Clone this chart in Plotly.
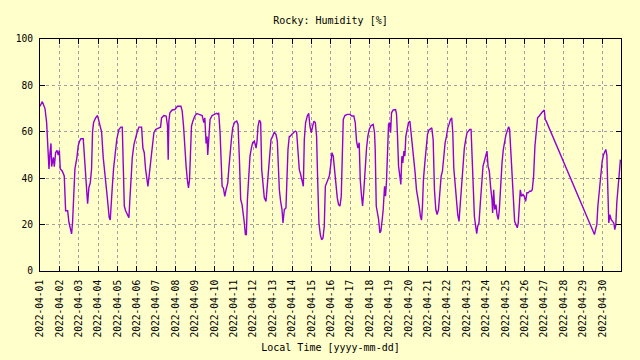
import pandas as pd
import plotly.graph_objects as go

start = "2022-04-01 00:00"
end = "2022-04-30 22:48"

# hours since 2022-04-01 00:00
hours = [
    0, 2.9, 6.2, 8.2, 9.5, 11.1, 12.4, 13.6, 14.4, 16.5, 17.7, 19.3, 21, 22.6, 23.9,
    25.1, 27.6, 30, 31.7, 34.2, 35.8, 37.9, 39.1, 40.3, 41.6, 43.2, 45.7, 47.3, 49,
    50.6, 53.5, 55.6, 56.8, 58, 58.9, 60.5, 62.2, 63.8, 65, 66.3, 68.8, 71.2, 72.9,
    75.3, 76.2, 78.2, 80.3, 82.3, 84, 85.6, 86.9, 87.7, 89.4, 91, 92.6, 95.1, 97.6, 100,
    101.8, 103, 104.3, 105.9, 108, 110, 110.9, 112.1, 114.2, 116.2, 118.3, 120.3, 122.4,
    125.7, 127.3, 129, 130.6, 132.3, 133.5, 134.7, 136.8, 138.9, 140.9, 143, 147.1, 149.1,
    150.4, 153.3, 156.1, 157.8, 158.6, 159.4, 160.7, 163.5, 166.8, 170.1, 174.3, 175.9,
    177.6, 179.2, 180.8, 182.5, 183.7, 185, 186.2, 187.4, 189.1, 191.5, 194, 196.5, 200.6,
    202.7, 203.9, 205.5, 206.7, 207.5, 208.8,
    210.4, 212.9, 215.8, 218.7, 220.3, 221.1, 222.8, 224, 225.3, 226.9, 228.6, 230.2,
    232.3, 233.5, 235.1, 236.8, 238.4, 240.5, 243.4, 245, 246.7, 248.3, 250, 251.6, 252.8,
    254.1, 255.3, 256.6, 258.2, 259.8, 261.5, 263.1, 265.2, 267.3, 268.5, 269.7, 271.4,
    273, 274.3, 275.9, 277.5, 279.6, 280.8, 282.1, 283.7, 285.8, 287.8, 289.9, 292, 293.6,
    294.8, 296.1, 297.7, 299.4, 300.6, 302.3, 304.3, 305.5, 306.8, 308.4,
    309.3, 311.4, 313.4, 315.9, 317.5, 319.2, 320.8, 322.5, 324.1, 325.8, 327, 328.6,
    330.7, 332.4, 334, 335.6, 337.3, 338.9, 340.6, 342.2, 343.5, 345.1, 346.8, 348.4,
    350.1, 351.7, 353, 354.6, 356.2, 357.9, 359.5, 361.2, 362.8, 364.5, 366.1, 367.8,
    369.4, 371.1, 372.7, 373.9, 375.2, 377.2, 380.1, 383.4, 385.9, 388.3, 390, 391.6,
    393.3, 394.9, 396.2, 397.8, 399.1, 400.7, 402.3, 404, 405.6, 407.3, 409.7, 412.2, 413.9,
    414.7, 416, 417.2, 418.9, 420.5, 421.7, 423.4, 424.6, 426.3, 427.5, 428.7, 430, 431.2,
    432.4, 433.7, 434.9, 437, 439.9, 441.1, 442.3, 443.6, 445.2, 446.4, 447.7, 448.9,
    450.2, 451.4, 452.6, 454.3, 455.9, 457.6, 459.2, 460.9, 462.5, 464.1, 465.8, 467.4,
    469.1, 470.7, 472, 473.2, 474.4, 476.1, 477.7, 479.4, 481, 483.1, 484.7, 486.4, 488,
    489.7, 491.3, 493, 494.6, 496.3, 497.9, 499.6, 501.2, 502.9, 504.5, 506.1, 507.8,
    509.4, 510.7, 511.9, 513.6, 515.2, 516.8,
    518.4, 520.1, 521.7, 523.4, 525, 526.7, 528.3, 530, 531.6, 533.3, 534.5, 535.7, 537.4,
    539, 540.3, 541.5, 543.1, 544.8, 546.4, 548.1, 549.7, 551.4, 553, 554.3, 555.9, 557.6,
    559.2, 560, 561.3, 562.5, 564.1, 565.4, 567, 568.3, 569.9, 571.6, 573.2, 574.8, 576.5,
    578.1, 579.8, 581, 582.3, 583.9, 585.6, 587.2, 588.8, 590.5, 591.7, 593, 594.2, 595.8,
    597.5, 599.1, 600.8, 602.4, 604.1, 605.7, 607.4, 609, 610.7, 612.3, 614, 615.6, 617.7,
    619.7,
    621.4, 623.9, 625.1, 626.3, 686, 687.3, 688.9, 690.2, 691.4, 692.6, 693.9, 695.5,
    697.1, 698.8, 700, 701.3, 702.5, 703.7, 705, 706.6, 708.3, 709.9, 711.1, 712.4, 713.6,
    715.3, 716.9, 718.1,
]

humidity = [
    71, 73, 70, 64, 55, 44, 51, 55, 45, 49, 45, 51, 52, 50, 52,
    44, 43, 41, 26, 26, 21, 18, 16, 21, 36, 44, 49, 54, 56,
    57, 57, 45, 39, 31, 29, 36, 38, 44, 60, 64, 66, 67, 65,
    62, 60, 49, 40, 35, 29, 23, 22, 28, 36, 44, 49, 57, 61, 62,
    62, 46, 28, 26, 24, 23, 29, 39, 49, 54.5, 58, 60, 62,
    62, 53, 51, 44, 39, 36.5, 40, 47, 54.5, 59.6, 61, 61.7, 62,
    66, 67, 66.8, 62.4, 48, 64.6, 68.2, 69.4, 69.6, 71, 71, 69,
    62.4, 52.4, 45, 38.7, 35.8, 39.4, 53, 62.4, 64.6, 66.8, 67.9, 67.5, 67,
    64, 66, 55, 58, 50, 60,
    65.3, 67, 67.5, 68, 67.5, 68.2, 59.6, 43.7, 36.5, 35.8, 32.2, 35,
    38, 43.7, 52.4, 56.7, 61.7, 64, 64.6, 63.2, 48, 30.8, 28.6, 25, 20.7,
    15.7, 15.7, 30.8, 39.4, 49.5, 53, 55.3, 56, 53, 56, 62.4, 65,
    64, 43.7, 38, 31.5, 30, 35, 43.7, 50, 56.7, 58, 59.9, 58.8, 56,
    46, 35, 30, 26.5, 20.7, 26.5, 27.2, 42.3, 52.4, 58,
    58, 58.8, 59.6, 60.3, 59.9, 49.5, 43.7, 41.6, 39.4, 36.5, 56.7, 64,
    66.8, 68, 62.4, 59.6, 62.4, 64.6, 64, 58, 39.4, 20.7, 15.7, 13.5,
    14.2, 19.3, 36.5, 38, 40, 40.9, 45.2, 51, 49.5, 42.3, 36.5, 31.5,
    28.6, 28, 32.2, 49.5, 65.3, 67, 67.5, 67.5, 66.8, 66.8, 64, 56,
    53, 55.3, 39.4, 32.2, 28, 35, 45.2, 53, 58, 61, 62.7, 63.2, 59.6,
    52.4, 28, 25.8, 22.2, 16.4, 17.2, 22.2, 26.5, 36.5, 32.2, 38.7, 52.4, 63.2,
    64, 59.6, 68.2, 69.4, 69.6, 67.5, 58, 45.2, 40.9, 37.3, 49.5, 46.6,
    51.7, 49.5, 58, 61.7, 64, 64.6, 59.6, 52.4, 46.6, 42.3, 35, 32.2,
    28, 23.6, 21.9, 28, 39.4, 46.6, 54.5, 58.8, 60.7, 61.3, 61.7, 56.7, 35,
    26.5, 24.3, 26.5, 35, 40.9, 43, 49.5, 55.3, 58, 61.7, 63.2, 65.3,
    66, 59.6, 44.5, 36.5, 29.4, 24.3,
    21.4, 29.4, 40.9, 46.6, 53, 56.7, 59.6, 60.3, 61, 61, 49.5, 36.5, 23.6,
    19.3, 16.1, 19.3, 20.7, 29.4, 38, 45.2, 47.3, 50, 51.7, 45.2, 43, 35.8,
    30.8, 25, 35, 26.5, 28.6, 24.3, 22.2, 26.5, 37.3, 46.6, 52.4, 56.7, 58.8,
    60.3, 62.2, 61, 52.4, 39.4, 30.8, 21.4, 20, 18.6, 20.7, 32.2, 35, 32.2,
    33, 32.2, 30, 33.7, 33.7, 34.4, 34.4, 35, 40.9, 53.8, 61, 66, 66.8,
    67.9,
    68.5, 69.4, 65.3, 64.6, 15.7, 17.8, 20, 28, 32.2, 38, 43, 47.3,
    50, 51.7, 52.4, 50, 26.5, 20.7, 24.3, 22.2, 21.4, 20.7, 17.8, 20, 29.4,
    38, 46, 48,
]

tick_labels = [
    "2022-04-01", "2022-04-02", "2022-04-03", "2022-04-04", "2022-04-05",
    "2022-04-06", "2022-04-07", "2022-04-08", "2022-04-09", "2022-04-10",
    "2022-04-11", "2022-04-12", "2022-04-13", "2022-04-14", "2022-04-15",
    "2022-04-16", "2022-04-17", "2022-04-18", "2022-04-19", "2022-04-20",
    "2022-04-21", "2022-04-22", "2022-04-23", "2022-04-24", "2022-04-25",
    "2022-04-26", "2022-04-27", "2022-04-28", "2022-04-29", "2022-04-30",
]
y_ticks = [0, 20, 40, 60, 80, 100]

times = pd.Timestamp(start) + pd.to_timedelta(hours, unit="h")

fig = go.Figure(
    go.Scatter(
        x=times, y=humidity, mode="lines",
        line=dict(color="#9400d3", width=1.4),
        showlegend=False, hoverinfo="skip",
    )
)

font = dict(family="DejaVu Sans Mono", size=10, color="black")
tick_font = dict(family="DejaVu Sans Mono", size=9.6, color="black")
bg = "#ffffcc"

fig.update_layout(
    width=640, height=360,
    margin=dict(l=40, r=19, t=39, b=89),
    paper_bgcolor=bg, plot_bgcolor=bg,
    font=font,
    title=dict(text="Rocky: Humidity [%]", x=0.5, xref="paper", xanchor="center",
               y=1 - 20 / 360, yref="container", yanchor="middle", font=font),
    showlegend=False,
)

fig.update_xaxes(
    range=[start, end], automargin=False,
    tickvals=tick_labels, ticktext=tick_labels, tickangle=-90, tickfont=tick_font,
    ticks="inside", ticklen=5, tickcolor="black", tickwidth=1,
    showline=True, linecolor="black", linewidth=1, mirror="ticks",
    showgrid=True, gridcolor="#a0a0a0", gridwidth=1, griddash="dot",
    zeroline=False, ticklabelstandoff=4,
    title=dict(text="Local Time [yyyy-mm-dd]", standoff=7, font=font),
)
fig.update_yaxes(
    range=[0, 100], tickvals=y_ticks, automargin=False, tickfont=tick_font,
    ticks="inside", ticklen=5, tickcolor="black", tickwidth=1,
    showline=True, linecolor="black", linewidth=1, mirror="ticks",
    showgrid=True, gridcolor="#a0a0a0", gridwidth=1, griddash="dot",
    zeroline=False, ticklabelstandoff=4,
)

fig.write_html("out.html", config={"displayModeBar": False},
               post_script="document.body.style.margin='0';")
